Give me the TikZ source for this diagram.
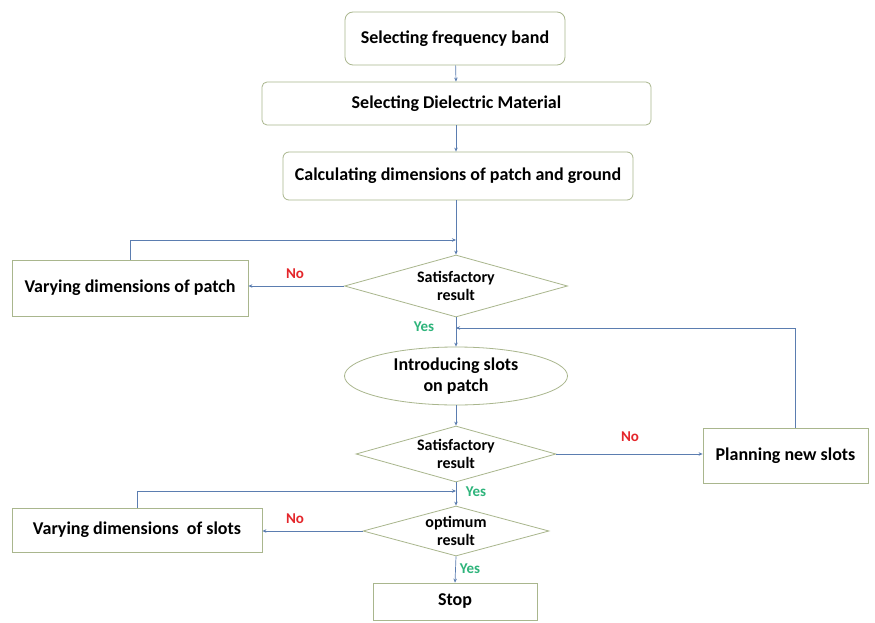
\documentclass[tikz,border=0pt]{standalone}
\usepackage{fontspec}
\setmainfont{Carlito}
\usetikzlibrary{shapes.geometric,arrows.meta}
\definecolor{bord}{HTML}{A9B68D}
\definecolor{arr}{HTML}{5B7DB0}
\definecolor{nored}{HTML}{E4262B}
\definecolor{yesgreen}{HTML}{2EB47B}
\begin{document}
\begin{tikzpicture}[x=1pt,y=-1pt,
  stepbox/.style={draw=bord,line width=0.8pt,inner sep=0pt,align=center,
    font=\bfseries\fontsize{18}{21}\selectfont},
  decision/.style={draw=bord,line width=0.8pt,diamond,shape aspect=3.6,inner sep=0pt,align=center,
    font=\bfseries\fontsize{16}{18}\selectfont},
  oval/.style={draw=bord,line width=0.8pt,ellipse,inner sep=0pt,align=center,
    font=\bfseries\fontsize{18}{21}\selectfont},
  conn/.style={draw=arr,line width=0.7pt,-{Stealth[length=4pt,width=3.5pt]}},
  nolab/.style={text=nored,font=\bfseries\fontsize{15}{17}\selectfont},
  yeslab/.style={text=yesgreen,font=\bfseries\fontsize{15}{17}\selectfont}]
\fill[white] (0,0) rectangle (875,623);
\useasboundingbox (0,0) rectangle (875,623);

\node[stepbox,rounded corners=8pt,minimum width=220pt,minimum height=53pt] (b1) at (455,38.5) {Selecting frequency band};
\node[stepbox,rounded corners=5pt,minimum width=389pt,minimum height=43pt] (b2) at (456.5,103.5) {Selecting Dielectric Material};
\node[stepbox,rounded corners=6pt,minimum width=350pt,minimum height=48pt] (b3) at (458,176) {Calculating dimensions of patch and ground};
\node[decision,minimum width=223pt,minimum height=62pt] (d1) at (456,286) {Satisfactory\\result};
\node[stepbox,minimum width=236pt,minimum height=56pt] (vp) at (130,288) {Varying dimensions of patch};
\node[oval,minimum width=223pt,minimum height=58pt] (el) at (456,376) {Introducing slots\\on patch};
\node[decision,minimum width=200pt,minimum height=56pt] (d2) at (456,454) {Satisfactory\\result};
\node[stepbox,minimum width=165pt,minimum height=55pt] (pl) at (785.5,455.5) {Planning new slots};
\node[decision,minimum width=186pt,minimum height=50pt] (d3) at (456,531) {optimum\\result};
\node[stepbox,minimum width=250pt,minimum height=44pt] (vs) at (137,530) {Varying dimensions\ \ of slots};
\node[stepbox,minimum width=164pt,minimum height=37pt] (st) at (455,601.5) {Stop};

\coordinate (j1) at (456,240);
\coordinate (j2) at (456,328);
\coordinate (j3) at (456,491);

\draw[conn] (b1) -- (b2);
\draw[conn] (b2.south -| 456,0) -- (b3.north -| 456,0);
\draw[conn] (b3.south -| d1.north) -- (d1.north);
\draw[conn] (vp.north) |- (j1);
\draw[conn] (d1.west) -- (d1.west -| vp.east);
\draw[conn] (d1.south) -- (el.north);
\draw[conn] (pl.north -| 795,0) |- (j2);
\draw[conn] (el.south) -- (d2.north);
\draw[conn] (d2.east) -- (d2.east -| pl.west);
\draw[conn] (d2.south) -- (d3.north);
\draw[conn] (vs.north) |- (j3);
\draw[conn] (d3.west) -- (d3.west -| vs.east);
\draw[conn] (d3.south) -- (st.north);

\node[nolab] (n1) at (295,274) {No};
\node[yeslab] (y1) at (424,327) {Yes};
\node[nolab] (n2) at (630,437) {No};
\node[yeslab] (y2) at (476,492) {Yes};
\node[nolab] (n3) at (295,519) {No};
\node[yeslab] (y3) at (470,569) {Yes};
\end{tikzpicture}
\end{document}
